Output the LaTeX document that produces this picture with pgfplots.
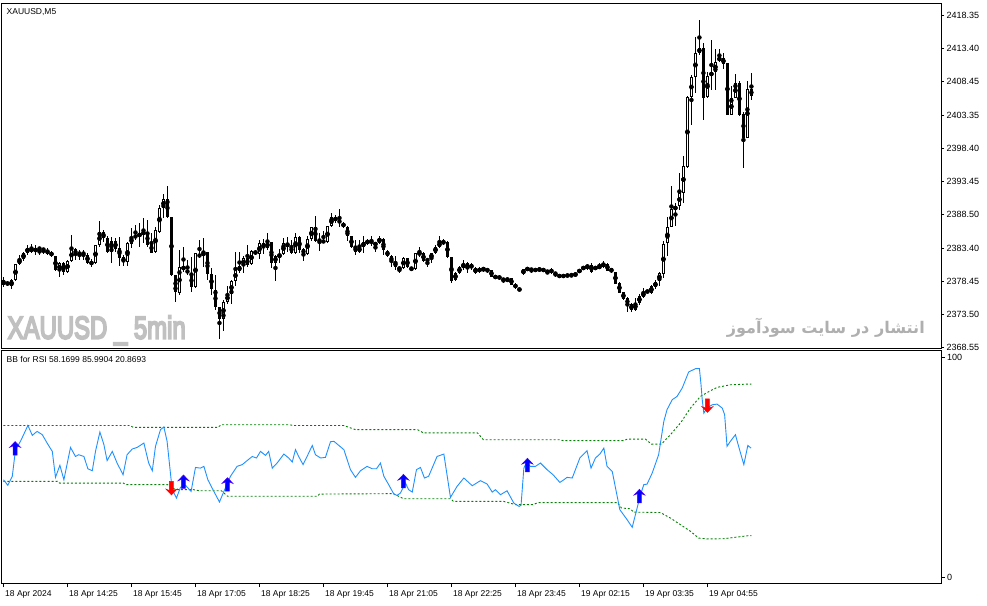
\documentclass[border=0pt]{standalone}
\usepackage{fontspec}
\setmainfont{Liberation Sans}
\newfontfamily\arabicfont[Script=Arabic]{DejaVu Sans}
\newfontfamily\wmfont[FakeBold=6.5]{Liberation Sans}
\usepackage{pgfplots}
\usepackage{pgfplotstable}
\pgfplotsset{compat=1.18}
\TeXXeTstate=1
\definecolor{rsiblue}{RGB}{30,144,255}
\definecolor{bbgreen}{RGB}{0,128,0}
\definecolor{wmgray}{RGB}{192,192,192}
\definecolor{wmgray2}{RGB}{175,175,175}
\newcommand{\lbl}{\fontsize{8.5}{10}\selectfont}
\newcommand{\plbl}{\fontsize{9}{10}\selectfont}

\pgfdeclareplotmark{upar}{%
 \pgfpathmoveto{\pgfqpoint{0pt}{7pt}}%
 \pgfpathlineto{\pgfqpoint{5.5pt}{1.2pt}}%
 \pgfpathlineto{\pgfqpoint{2pt}{2.6pt}}%
 \pgfpathlineto{\pgfqpoint{2pt}{-6.5pt}}%
 \pgfpathlineto{\pgfqpoint{-2pt}{-6.5pt}}%
 \pgfpathlineto{\pgfqpoint{-2pt}{2.6pt}}%
 \pgfpathlineto{\pgfqpoint{-5.5pt}{1.2pt}}%
 \pgfpathclose
 \pgfusepathqfillstroke}
\pgfdeclareplotmark{downar}{%
 \pgfpathmoveto{\pgfqpoint{0pt}{-7pt}}%
 \pgfpathlineto{\pgfqpoint{5.5pt}{-1.2pt}}%
 \pgfpathlineto{\pgfqpoint{2pt}{-2.6pt}}%
 \pgfpathlineto{\pgfqpoint{2pt}{6.5pt}}%
 \pgfpathlineto{\pgfqpoint{-2pt}{6.5pt}}%
 \pgfpathlineto{\pgfqpoint{-2pt}{-2.6pt}}%
 \pgfpathlineto{\pgfqpoint{-5.5pt}{-1.2pt}}%
 \pgfpathclose
 \pgfusepathqfillstroke}

\pgfplotstableread{
i o h l c
0 2378.6 2379.05 2377.55 2377.85
1 2378.3 2378.45 2377.7 2377.85
2 2377.7 2378.75 2377.25 2378.6
3 2378.6 2381.0 2378.45 2381.0
4 2381.0 2382.35 2380.85 2381.75
5 2381.75 2382.8 2381.45 2382.65
6 2382.65 2383.85 2382.35 2383.4
7 2383.55 2384.0 2382.65 2382.8
8 2382.8 2383.85 2382.35 2383.4
9 2383.4 2383.4 2382.35 2383.25
10 2383.25 2383.4 2382.5 2383.1
11 2383.1 2383.4 2382.35 2382.5
12 2382.8 2382.95 2382.05 2382.2
13 2382.2 2382.2 2379.95 2380.1
14 2379.95 2381.3 2379.05 2381.15
15 2381.15 2381.3 2379.35 2379.8
16 2379.8 2381.6 2379.65 2381.45
17 2381.45 2385.35 2381.3 2383.25
18 2383.25 2383.4 2381.6 2382.35
19 2382.8 2383.1 2381.6 2382.35
20 2382.8 2383.1 2381.6 2382.35
21 2382.35 2382.65 2381.0 2381.15
22 2381.45 2381.75 2380.55 2380.85
23 2381.15 2383.85 2381.0 2383.85
24 2383.85 2387.45 2383.55 2385.8
25 2385.8 2386.1 2384.3 2384.9
26 2384.9 2385.2 2382.65 2382.8
27 2384.45 2385.05 2381.15 2382.8
28 2384.45 2384.9 2382.8 2383.25
29 2383.4 2385.05 2380.7 2381.9
30 2382.05 2382.35 2380.7 2381.3
31 2381.3 2384.3 2380.7 2384.15
32 2384.0 2386.4 2383.4 2385.05
33 2385.05 2386.85 2384.6 2385.2
34 2385.05 2387.15 2383.55 2385.65
35 2385.35 2387.9 2384.15 2385.95
36 2385.8 2387.6 2383.55 2383.85
37 2384.15 2385.65 2382.65 2382.65
38 2382.8 2386.55 2382.65 2386.1
39 2385.8 2389.85 2385.65 2389.4
40 2389.4 2391.5 2387.9 2390.75
41 2390.75 2392.7 2387.9 2388.05
42 2388.05 2388.05 2379.2 2379.35
43 2379.35 2379.35 2375.3 2376.8
44 2376.65 2383.1 2376.35 2380.55
45 2380.1 2383.55 2379.8 2380.7
46 2380.1 2381.6 2379.35 2379.65
47 2379.5 2382.05 2376.8 2377.55
48 2377.55 2382.65 2377.4 2382.65
49 2382.5 2384.6 2381.9 2382.05
50 2382.2 2384.9 2380.55 2382.8
51 2382.8 2382.8 2378.6 2379.5
52 2379.5 2380.4 2376.35 2377.25
53 2377.1 2379.35 2374.1 2374.55
54 2374.55 2374.55 2369.75 2372.75
55 2372.75 2375.6 2370.95 2375.3
56 2375.3 2377.7 2375.0 2376.5
57 2376.5 2378.6 2375.0 2378.45
58 2378.45 2382.8 2377.7 2380.1
59 2379.95 2382.8 2379.65 2380.7
60 2380.7 2382.2 2379.65 2381.9
61 2381.9 2383.85 2380.55 2380.85
62 2381.0 2383.1 2380.85 2382.95
63 2382.95 2383.1 2382.35 2382.5
64 2382.5 2384.6 2381.75 2384.15
65 2384.15 2384.75 2382.5 2383.4
66 2383.4 2385.65 2383.1 2384.3
67 2384.3 2384.3 2380.4 2381.15
68 2381.15 2382.35 2378.45 2382.2
69 2382.05 2383.25 2381.15 2382.5
70 2382.5 2384.9 2382.35 2384.15
71 2384.15 2385.05 2382.8 2383.55
72 2383.7 2384.6 2382.5 2382.65
73 2382.65 2385.65 2382.5 2385.05
74 2385.05 2385.2 2382.65 2383.1
75 2383.25 2383.4 2381.45 2382.5
76 2382.5 2385.2 2382.35 2384.75
77 2384.75 2386.55 2384.45 2386.55
78 2386.55 2388.2 2384.3 2384.45
79 2384.75 2385.65 2382.95 2384.3
80 2384.3 2385.95 2384.15 2384.45
81 2384.3 2386.7 2384.15 2386.7
82 2386.7 2388.65 2386.55 2388.05
83 2388.05 2388.35 2387.15 2387.45
84 2387.6 2389.25 2386.55 2387.15
85 2387.15 2387.3 2386.4 2386.55
86 2386.55 2386.7 2384.45 2385.2
87 2385.2 2385.2 2383.4 2383.55
88 2383.55 2384.6 2382.35 2382.8
89 2382.8 2384.6 2382.65 2383.55
90 2383.55 2385.2 2382.65 2384.3
91 2384.15 2384.75 2383.85 2384.45
92 2384.45 2385.2 2383.7 2384.15
93 2383.85 2384.15 2382.8 2384.15
94 2384.15 2385.2 2384.0 2384.9
95 2384.75 2384.9 2382.35 2383.1
96 2382.95 2383.1 2382.05 2382.2
97 2382.2 2382.35 2380.55 2381.3
98 2381.3 2382.2 2380.1 2380.55
99 2380.1 2380.55 2379.65 2380.55
100 2380.4 2382.05 2380.25 2381.9
101 2381.9 2381.9 2380.4 2380.55
102 2380.55 2380.55 2379.95 2380.1
103 2380.25 2382.65 2380.1 2382.65
104 2382.35 2383.55 2382.05 2382.8
105 2382.65 2382.8 2381.3 2381.45
106 2381.75 2381.75 2380.55 2381.45
107 2381.75 2382.65 2381.15 2382.65
108 2382.65 2383.85 2382.5 2383.55
109 2383.55 2385.2 2383.4 2384.3
110 2384.15 2384.75 2383.85 2384.3
111 2384.3 2384.45 2381.9 2382.05
112 2382.05 2382.05 2378.15 2378.45
113 2378.6 2379.8 2378.45 2379.65
114 2379.65 2380.7 2379.5 2380.55
115 2380.4 2381.6 2380.1 2381.0
116 2381.15 2381.3 2379.65 2380.25
117 2381.0 2381.15 2380.1 2380.4
118 2379.65 2380.55 2379.5 2380.4
119 2379.8 2380.55 2379.65 2380.4
120 2380.1 2380.55 2379.8 2380.4
121 2380.25 2380.4 2379.65 2379.95
122 2380.1 2380.1 2379.05 2379.05
123 2378.9 2379.35 2378.75 2379.2
124 2379.2 2379.35 2378.6 2378.75
125 2378.75 2378.9 2378.15 2378.6
126 2378.45 2378.9 2378.3 2378.9
127 2378.9 2378.9 2377.85 2377.85
128 2378.0 2378.15 2377.25 2377.4
129 2377.4 2377.4 2376.95 2376.95
130 2379.5 2380.25 2379.35 2380.25
131 2380.1 2380.55 2379.95 2380.4
132 2380.25 2380.4 2379.65 2380.1
133 2380.25 2380.25 2379.95 2379.95
134 2379.95 2380.55 2379.8 2380.4
135 2380.4 2380.4 2379.8 2379.8
136 2379.95 2379.95 2379.5 2379.8
137 2380.25 2380.4 2379.5 2379.65
138 2379.65 2379.8 2379.05 2379.5
139 2379.35 2379.35 2379.05 2379.05
140 2379.35 2379.35 2379.05 2379.05
141 2379.35 2379.35 2379.2 2379.2
142 2379.35 2379.5 2379.2 2379.2
143 2379.2 2379.65 2379.2 2379.65
144 2379.65 2380.25 2379.65 2380.25
145 2380.25 2380.7 2380.1 2380.55
146 2380.4 2381.0 2380.1 2380.85
147 2380.85 2381.15 2379.65 2379.8
148 2380.25 2380.7 2380.1 2380.55
149 2380.4 2381.15 2380.25 2380.7
150 2380.55 2381.45 2380.4 2381.15
151 2381.0 2381.15 2379.95 2379.95
152 2380.4 2380.4 2379.65 2379.8
153 2379.8 2379.8 2378.0 2378.0
154 2378.15 2378.3 2376.65 2376.65
155 2376.8 2376.8 2375.6 2375.75
156 2375.9 2376.05 2373.8 2374.85
157 2375.0 2375.15 2373.8 2374.1
158 2374.1 2375.9 2373.95 2375.15
159 2375.15 2376.5 2374.85 2376.2
160 2376.05 2377.4 2375.9 2376.8
161 2376.95 2377.1 2376.65 2376.8
162 2376.65 2377.85 2376.5 2377.7
163 2377.55 2378.6 2377.25 2378.3
164 2378.45 2379.8 2377.7 2379.65
165 2379.5 2384.45 2378.9 2384.0
166 2384.15 2388.05 2382.2 2386.55
167 2386.55 2392.7 2386.55 2389.25
168 2389.1 2390.15 2386.7 2389.7
169 2389.7 2394.65 2389.1 2391.65
170 2391.65 2397.2 2390.15 2395.7
171 2395.55 2406.2 2395.4 2406.05
172 2406.05 2409.35 2401.85 2409.05
173 2409.05 2415.05 2406.65 2412.65
174 2412.65 2417.6 2412.35 2413.4
175 2413.4 2414.15 2402.6 2405.9
176 2406.05 2409.8 2405.9 2409.2
177 2409.2 2414.6 2407.1 2409.8
178 2409.8 2413.25 2407.1 2411.3
179 2411.45 2413.25 2411.3 2412.05
180 2411.9 2412.65 2410.25 2411.0
181 2411.15 2411.15 2403.35 2403.35
182 2403.35 2407.7 2403.35 2405.9
183 2405.9 2409.5 2405.9 2408.15
184 2408.15 2408.45 2403.2 2403.35
185 2403.5 2403.8 2395.4 2399.9
186 2399.9 2408.45 2399.9 2407.25
187 2407.25 2409.65 2405.6 2406.2
}\candles

\pgfplotstableread{
i r
0 44.2
1.08 41.7
2.2 45.8
3 57.9
4.25 61.7
6.1 68.9
7.2 64.4
8.4 66.2
9.7 64.7
10.9 60.9
12.2 57.1
13 45.3
14.1 50.8
15.1 44.2
16.75 58.9
18 54.8
18.8 55.6
20.1 54.8
21.1 49.2
22.2 48.3
23 57.1
24.1 65.9
25.1 60.2
25.9 52.9
27.2 57.1
28.4 51.8
29.9 46.5
30.9 55.6
32.2 58.2
33.4 58.9
35.1 60.9
36.3 51.8
37.2 48.3
38 59.4
39.25 67.0
40.1 68.2
40.9 61.7
42 42.7
42.4 38.9
43.25 35.9
44.25 40.8
45.5 41.7
46.9 38.9
48 49.8
49.25 49.5
50.1 50.3
51.1 44.2
52.6 38.9
54 34.1
55.1 38.9
56.75 45.8
58.4 50.3
59.7 51.1
60.9 52.9
62.2 54.8
63.25 54.1
64.25 57.1
65.5 55.3
66.3 57.1
67.2 49.5
68.4 51.8
70.1 55.9
71.3 54.1
72.2 52.3
73 57.9
73.8 54.8
74.9 51.1
75.9 54.8
77.2 59.8
78 55.6
79.25 54.1
80.5 54.4
81.75 61.5
82.6 61.7
85.1 57.9
86.75 48.8
88 45.3
89.25 48.3
90.9 50.3
92.2 49.2
93.25 49.2
94.25 51.8
95.1 45.8
96.3 42.0
97.6 37.7
98.4 37.1
99.25 38.2
100.5 42.7
101.3 39.7
102.2 38.6
103.25 48.8
104.25 49.8
105.25 45.0
106.3 45.8
108.4 54.8
110.1 55.9
111.75 36.2
113.4 41.2
115.1 45.0
117.2 41.5
119.25 43.8
120.9 42.3
122.2 38.6
123 39.7
124.25 37.4
125.9 39.2
127.6 33.6
128.9 32.1
129.4 32.6
130.1 49.5
130.75 52.1
131.75 50.3
133 50.3
134.25 51.8
135.9 48.8
137.4 46.5
139.1 43.0
140.1 44.2
140.9 45.3
142.2 45.0
144.1 54.1
145.9 57.4
146.9 49.5
148 54.1
149.1 55.9
150.1 58.6
150.9 50.3
152.2 48.0
154.1 30.6
155.9 26.1
157.2 22.6
158.2 29.8
159.25 37.4
160.1 42.0
160.9 42.2
162.2 47.3
163.8 55.6
165.1 70.8
165.9 76.1
167.2 80.6
168.4 82.1
169.7 85.9
171.3 93.2
173 94.7
174 94.7
174.4 87.4
174.7 80.6
175.1 74.5
175.9 76.8
177.2 78.3
178.4 78.6
179.7 76.8
180.3 73.8
180.9 59.4
181.75 61.7
183 64.7
183.8 59.4
185.1 51.1
186.1 59.8
186.9 58.6
}\rsi

\pgfplotstableread{
i r
0 68.9
31.5 68.9
32.5 68.0
53.5 68.0
54.5 69.2
71.5 69.2
72.5 68.9
85 68.9
88 67.0
103.5 67.0
105 65.5
118.5 65.5
120 62.4
139 62.4
140 62.0
155 62.0
156 62.7
160.5 62.7
162 60.4
164.5 60.4
166.75 64.7
169.25 70.0
171.75 76.8
174.25 82.1
176.75 84.7
178.4 86.2
181.75 87.4
186.3 87.7
187 87.7
}\bbup

\pgfplotstableread{
i r
0 43.5
13.5 43.5
14 42.7
30 42.7
30.5 42.0
41 42.0
43 39.7
47.5 39.7
49 39.2
54.5 39.2
56 36.7
78.5 36.7
79 37.7
97.5 37.9
100 35.6
111.75 35.6
112.5 34.4
125 34.4
128 32.9
132.5 32.9
133.5 33.8
153.5 33.8
154.5 31.4
156.75 31.0
157.5 29.5
164.25 29.3
166.75 26.8
169.25 23.8
171.75 20.8
173.8 17.7
176 17.3
180 17.4
186.3 18.8
187 18.8
}\bblow

\begin{document}
\begin{tikzpicture}[x=1pt,y=1pt]
\path[use as bounding box] (0,0) rectangle (987,605);
% watermarks (behind)
\node[anchor=base west, inner sep=0pt, text=wmgray] at (7.5,266.3) {\resizebox{178pt}{23pt}{\wmfont XAUUSD \_ 5min}};
\node[anchor=east, inner sep=0pt, text=wmgray2] at (925,277) {\resizebox{198pt}{!}{\arabicfont\bfseries\beginR انتشار در سایت سودآموز\endR}};

\begin{axis}[
  at={(1.5pt,257pt)}, anchor=south west, scale only axis,
  width=939.5pt, height=345pt,
  xmin=-0.5, xmax=234.4, ymin=2368.4, ymax=2420.15,
  xtick=\empty,
  ytick={2368.55,2373.50,2378.45,2383.40,2388.50,2393.45,2398.40,2403.35,2408.45,2413.40,2418.35},
  yticklabels={2368.55,2373.50,2378.45,2383.40,2388.50,2393.45,2398.40,2403.35,2408.45,2413.40,2418.35},
  ytick pos=right, yticklabel pos=right, ytick align=outside,
  major tick length=3pt, tick style={black, line width=0.6pt},
  yticklabel style={anchor=west, font=\plbl, inner sep=0pt, xshift=2.5pt},
  axis line style={line width=0.8pt},
]
\addplot[only marks, mark=none, forget plot, error bars/.cd, y dir=both, y explicit, error mark=none,
  error bar style={draw=black, line width=1pt}]
  table[x=i, y expr={0.5*(\thisrow{h}+\thisrow{l})}, y error expr={0.5*(\thisrow{h}-\thisrow{l})}] {\candles};
\addplot[only marks, mark=none, forget plot, error bars/.cd, y dir=both, y explicit, error mark=none,
  error bar style={draw=black, line width=3.5pt}]
  table[x=i, y expr={0.5*(\thisrow{o}+\thisrow{c})}, y error expr={max(0.5*abs(\thisrow{o}-\thisrow{c}),0.09)}] {\candles};
\addplot[only marks, mark=none, forget plot, restrict expr to domain={\thisrow{c}-\thisrow{o}}{0.29:1000},
  error bars/.cd, y dir=both, y explicit, error mark=none,
  error bar style={draw=white, line width=1.5pt}]
  table[x=i, y expr={0.5*(\thisrow{o}+\thisrow{c})}, y error expr={0.5*(\thisrow{c}-\thisrow{o})-0.14}] {\candles};
\end{axis}

\begin{axis}[
  at={(1.5pt,21.5pt)}, anchor=south west, scale only axis,
  width=939.5pt, height=233.5pt,
  xmin=-0.5, xmax=234.4, ymin=-2.95, ymax=103.2,
  xtick={0,16,32,48,64,80,96,112,128,144,160,176},
  xticklabels={18 Apr 2024,18 Apr 14:25,18 Apr 15:45,18 Apr 17:05,18 Apr 18:25,18 Apr 19:45,18 Apr 21:05,18 Apr 22:25,18 Apr 23:45,19 Apr 02:15,19 Apr 03:35,19 Apr 04:55},
  xtick pos=bottom, xtick align=outside,
  xticklabel style={anchor=north west, font=\lbl, inner sep=0pt, xshift=1.5pt, yshift=-3pt},
  ytick={0,100}, yticklabels={0,100},
  ytick pos=right, yticklabel pos=right, ytick align=outside,
  major tick length=3.5pt, tick style={black, line width=0.6pt},
  yticklabel style={anchor=west, font=\plbl, inner sep=0pt, xshift=2.5pt},
  axis line style={line width=0.8pt},
]
\addplot[bbgreen, line width=0.9pt, dash pattern=on 2pt off 2pt, forget plot] table[x=i,y=r] {\bbup};
\addplot[bbgreen, line width=0.9pt, dash pattern=on 2pt off 2pt, forget plot] table[x=i,y=r] {\bblow};
\addplot[rsiblue, line width=0.9pt, forget plot] table[x=i,y=r] {\rsi};
\addplot[only marks, mark=upar, forget plot, mark options={fill=blue, draw=blue!70!magenta, line width=0.5pt}]
  coordinates {(2.9,58.4) (45,43.2) (56,42.0) (100,43.5) (131,50.8) (159,36.7)};
\addplot[only marks, mark=downar, forget plot, mark options={fill=red, draw=red, line width=0.5pt}]
  coordinates {(42,40.5) (176,78.0)};
\end{axis}

\node[anchor=west, inner sep=0pt, font=\lbl] at (6.5,593) {XAUUSD,M5};
\node[anchor=west, inner sep=0pt, font=\lbl] at (6.5,245.5) {BB for RSI 58.1699 85.9904 20.8693};
\end{tikzpicture}
\end{document}
